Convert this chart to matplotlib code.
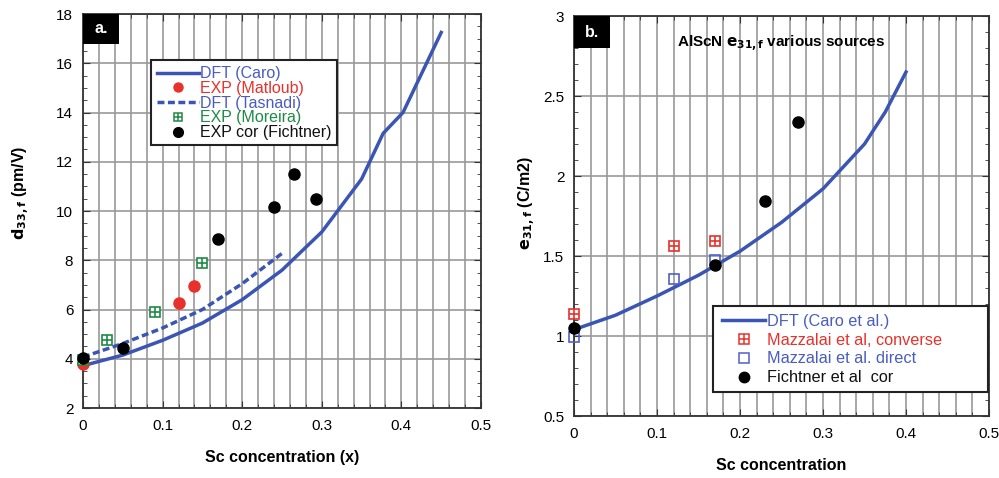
import matplotlib
matplotlib.use("Agg")
import matplotlib.pyplot as plt
from matplotlib.ticker import MultipleLocator
from matplotlib.lines import Line2D
from matplotlib.patches import Rectangle

plt.rcParams['font.family'] = ['Liberation Sans', 'DejaVu Sans']

# ---------------- Panel a data ----------------
caro_x = [0, 0.05, 0.1, 0.15, 0.2, 0.25, 0.3, 0.35, 0.377, 0.402, 0.45]
caro_y = [3.72, 4.15, 4.75, 5.45, 6.4, 7.6, 9.15, 11.3, 13.15, 14.0, 17.25]
tasnadi_x = [0, 0.05, 0.1, 0.15, 0.2, 0.25]
tasnadi_y = [4.07, 4.62, 5.25, 6.0, 7.05, 8.28]
matloub_x = [0, 0.12, 0.14]
matloub_y = [3.8, 6.28, 6.95]
moreira_x = [0, 0.03, 0.09, 0.15]
moreira_y = [3.95, 4.75, 5.9, 7.9]
fichtner_a_x = [0, 0.05, 0.17, 0.24, 0.265, 0.2925]
fichtner_a_y = [4.02, 4.45, 8.85, 10.17, 11.5, 10.5]
labels_a = ['DFT (Caro)', 'EXP (Matloub)', 'DFT (Tasnadi)', 'EXP (Moreira)', 'EXP cor (Fichtner)']

# ---------------- Panel b data ----------------
caro_e_x = [0, 0.05, 0.1, 0.15, 0.2, 0.25, 0.3, 0.35, 0.375, 0.4]
caro_e_y = [1.04, 1.13, 1.25, 1.38, 1.53, 1.71, 1.92, 2.2, 2.4, 2.65]
conv_x = [0, 0.12, 0.17]
conv_y = [1.14, 1.565, 1.595]
direct_x = [0, 0.12, 0.17]
direct_y = [0.996, 1.356, 1.475]
fichtner_b_x = [0, 0.17, 0.23, 0.27]
fichtner_b_y = [1.05, 1.445, 1.845, 2.34]
labels_b = ['DFT (Caro et al.)', 'Mazzalai et al, converse', 'Mazzalai et al. direct', 'Fichtner et al  cor']

BLUE = '#3a55b4'
RED = '#e8312b'
GREEN = '#1f8a45'
TXTBLUE = '#4a5cc0'
DIRBLUE = '#5060c8'
GRID = '#999999'
LW = 2.5

fig = plt.figure(figsize=(9.99, 4.78), dpi=100)
axa = fig.add_axes([0.0831, 0.1464, 0.3984, 0.8243])
axb = fig.add_axes([0.5746, 0.1297, 0.4154, 0.8368])


def style(ax, ymaj, ymin):
    ax.set_xlim(0, 0.5)
    ax.xaxis.set_major_locator(MultipleLocator(0.1))
    ax.xaxis.set_minor_locator(MultipleLocator(0.02))
    ax.yaxis.set_major_locator(MultipleLocator(ymaj))
    ax.yaxis.set_minor_locator(MultipleLocator(ymin))
    ax.grid(True, which='major', axis='y', color=GRID, lw=1.2)
    ax.grid(True, which='both', axis='x', color=GRID, lw=1.2)
    ax.set_axisbelow(True)
    ax.tick_params(which='both', direction='in', top=True, right=True,
                   labelsize=11, color='#333333')
    ax.tick_params(axis='y', pad=7)
    ax.tick_params(axis='x', pad=8)
    ax.tick_params(which='major', length=5)
    ax.tick_params(which='minor', length=3)
    for s in ax.spines.values():
        s.set_linewidth(1.3)
        s.set_color('#333333')
    ax.xaxis.set_major_formatter(plt.FuncFormatter(lambda v, p: '0' if abs(v) < 1e-9 else f'{v:g}'))
    ax.yaxis.set_major_formatter(plt.FuncFormatter(lambda v, p: f'{v:g}'))


def frame(ax, x, y, w, h):
    ax.add_patch(Rectangle((x, y), w, h, transform=ax.transAxes, fc='white',
                           ec='#222222', lw=1.5, zorder=4, clip_on=False))


def corner(ax, w, h, s):
    ax.add_patch(Rectangle((0, 1 - h), w, h, transform=ax.transAxes, fc='black',
                           ec='black', lw=0, zorder=5, clip_on=False))
    ax.text(w / 2, 1 - h / 2, s, transform=ax.transAxes, color='white', fontsize=11.5,
            fontweight='bold', ha='center', va='center', zorder=6)


# ---------------- Panel a ----------------
style(axa, 2, 0.5)
axa.set_ylim(2, 18)
axa.plot(caro_x, caro_y, color=BLUE, lw=LW, zorder=3)
axa.plot(tasnadi_x, tasnadi_y, color=BLUE, lw=LW, ls=(0, (2.0, 1.0)), zorder=3)
axa.plot(matloub_x, matloub_y, 'o', color=RED, ms=8, ls='none', clip_on=False, zorder=3)
axa.plot(moreira_x, moreira_y, 's', mfc='white', mec=GREEN, mew=1.2, ms=7, ls='none', clip_on=False, zorder=3)
axa.plot(moreira_x, moreira_y, '+', color=GREEN, mew=1.2, ms=7, ls='none', clip_on=False, zorder=3)
axa.plot(fichtner_a_x, fichtner_a_y, 'o', color='black', ms=8, ls='none', clip_on=False, zorder=3)
axa.set_xlabel('Sc concentration (x)', fontsize=11.5, fontweight='bold', labelpad=12)
axa.set_ylabel(r'$\mathbf{d_{33,f}}$ (pm/V)', fontsize=11.5, fontweight='bold')
axa.yaxis.set_label_coords(-0.127, 0.546)

h_caro = Line2D([], [], color=BLUE, lw=LW)
h_mat = Line2D([], [], marker='o', color=RED, ms=6.5, ls='none')
h_tas = Line2D([], [], color=BLUE, lw=LW, ls=(0, (2.0, 1.0)))
h_mor = (Line2D([], [], marker='s', mfc='white', mec=GREEN, mew=1.1, ms=6, ls='none'),
         Line2D([], [], marker='+', color=GREEN, mew=1.1, ms=6, ls='none'))
h_fic = Line2D([], [], marker='o', color='black', ms=7, ls='none')
frame(axa, 0.1709, 0.6675, 0.4673, 0.2157)
leg = axa.legend([h_caro, h_mat, h_tas, h_mor, h_fic], labels_a,
                 loc='upper left', bbox_to_anchor=(0.186, 0.867), fontsize=11.5,
                 frameon=False, borderpad=0, borderaxespad=0,
                 handlelength=2.6, handletextpad=0.1, labelspacing=-0.02)
leg.set_zorder(6)
for t, c in zip(leg.get_texts(), [TXTBLUE, RED, TXTBLUE, GREEN, '#111111']):
    t.set_color(c)

corner(axa, 0.0905, 0.076, 'a.')

# ---------------- Panel b ----------------
style(axb, 0.5, 0.1)
axb.set_ylim(0.5, 3)
axb.plot(caro_e_x, caro_e_y, color=BLUE, lw=LW, zorder=3)
axb.plot(conv_x, conv_y, 's', mfc='white', mec=RED, mew=1.2, ms=7, ls='none', clip_on=False, zorder=3)
axb.plot(conv_x, conv_y, '+', color=RED, mew=1.2, ms=7, ls='none', clip_on=False, zorder=3)
axb.plot(direct_x, direct_y, 's', mfc='none', mec=DIRBLUE, mew=1.2, ms=7, ls='none', clip_on=False, zorder=3)
axb.plot(fichtner_b_x, fichtner_b_y, 'o', color='black', ms=8, ls='none', clip_on=False, zorder=3)
axb.set_xlabel('Sc concentration', fontsize=11.5, fontweight='bold', labelpad=12)
axb.set_ylabel(r'$\mathbf{e_{31,f}}$ (C/m2)', fontsize=11.5, fontweight='bold')
axb.yaxis.set_label_coords(-0.087, 0.533)
axb.text(0.5, 0.955, r'AlScN $\mathbf{e_{31,f}}$ various sources', transform=axb.transAxes,
         ha='center', va='top', fontsize=11, fontweight='bold')

hb_caro = Line2D([], [], color=BLUE, lw=LW)
hb_conv = (Line2D([], [], marker='s', mfc='white', mec=RED, mew=1.1, ms=6.5, ls='none'),
           Line2D([], [], marker='+', color=RED, mew=1.1, ms=6.5, ls='none'))
hb_dir = Line2D([], [], marker='s', mfc='none', mec=DIRBLUE, mew=1.1, ms=6.5, ls='none')
hb_fic = Line2D([], [], marker='o', color='black', ms=7.5, ls='none')
frame(axb, 0.3349, 0.06, 0.6627, 0.215)
legb = axb.legend([hb_caro, hb_conv, hb_dir, hb_fic], labels_b,
                  loc='upper left', bbox_to_anchor=(0.3566, 0.255), fontsize=11.7,
                  frameon=False, borderpad=0, borderaxespad=0,
                  handlelength=2.65, handletextpad=0.1, labelspacing=0.23)
legb.set_zorder(6)
for t, c in zip(legb.get_texts(), [TXTBLUE, RED, TXTBLUE, '#111111']):
    t.set_color(c)

corner(axb, 0.0867, 0.08, 'b.')

fig.savefig('out.png', dpi=100)
